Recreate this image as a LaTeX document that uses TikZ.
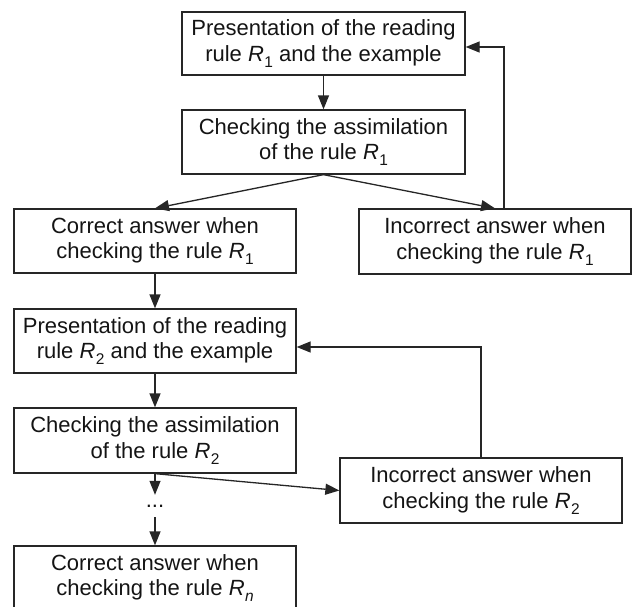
\documentclass[tikz,border=0pt]{standalone}
\usepackage{fontspec}
\setmainfont{Liberation Sans}
\usetikzlibrary{arrows.meta}
\definecolor{ink}{HTML}{141414}
\definecolor{edge}{HTML}{262626}
\newcommand{\Rs}[1]{\textit{R}\kern0.4pt\raisebox{-0.5ex}{\fontsize{15.5}{15.5}\selectfont #1}}
\begin{document}
\begin{tikzpicture}[x=1pt,y=-1pt,
  box/.style={draw=edge, line width=1.3pt, inner sep=0pt, align=center,
    text=ink, font=\fontsize{22}{25.5}\selectfont, minimum width=282pt, minimum height=64pt},
  arr/.style={draw=edge, line width=1.3pt, -{Triangle[length=14pt,width=11pt]}},
  dotsnode/.style={inner sep=0pt, text=ink, font=\fontsize{22}{25.5}\selectfont}]
\useasboundingbox (0,0) rectangle (632,606);
\clip (0,0) rectangle (632,606);
\node[box, minimum width=283pt, minimum height=63pt] (b1) at (323.5,43.5)
  {Presentation of the reading\\rule \Rs{1} and the example};
\node[box, minimum width=283pt] (b2) at (323.5,142)
  {Checking the assimilation\\of the rule \Rs{1}};
\node[box] (b3) at (155,241)
  {Correct answer when\\checking the rule \Rs{1}};
\node[box, minimum width=272pt, minimum height=65pt] (b4) at (495,241.5)
  {Incorrect answer when\\checking the rule \Rs{1}};
\node[box] (b5) at (155,341)
  {Presentation of the reading\\rule \Rs{2} and the example};
\node[box, minimum height=65pt] (b6) at (155,440.5)
  {Checking the assimilation\\of the rule \Rs{2}};
\node[box, minimum height=65pt] (b8) at (481,490.5)
  {Incorrect answer when\\checking the rule \Rs{2}};
\node[dotsnode, minimum height=22pt] (dots) at (155,506) {...};
\node[box] (b7) at (155,578)
  {Correct answer when\\checking the rule \Rs{\textit{n}}};
\draw[arr] (b1.south) -- (b2.north);
\draw[arr] (b2.south) -- (b3.north);
\draw[arr] (b2.south) -- (b4.north);
\draw[arr] ([xshift=9pt]b4.north) |- ([yshift=-3.5pt]b1.east);
\draw[arr] (b3.south) -- (b5.north);
\draw[arr] (b5.south) -- (b6.north);
\draw[arr] (b6.south) -- (dots.north);
\draw[arr] (dots.south) -- (b7.north);
\draw[arr] (b6.south) -- (b8.west);
\draw[arr] (b8.north) |- ([yshift=-6pt]b5.east);
\end{tikzpicture}
\end{document}
